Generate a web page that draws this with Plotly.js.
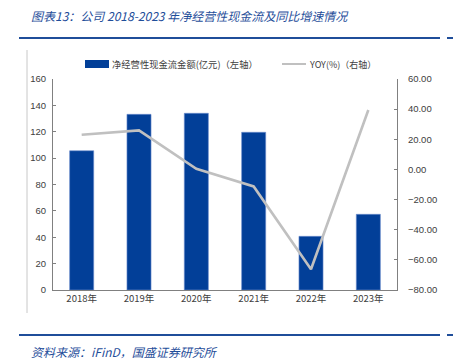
<!DOCTYPE html>
<html><head><meta charset="utf-8">
<script src="https://cdn.plot.ly/plotly-3.0.1.min.js"></script>
<style>html,body{margin:0;padding:0;background:#fff}#c{width:453px;height:364px}</style>
</head><body><div id="c"></div>
<script>
const categories = ['2018年','2019年','2020年','2021年','2022年','2023年'];
const cashFlow = [105.6, 133.2, 134.0, 119.6, 40.7, 57.4];
const yoy = [23.0, 25.9, 0.4, -11.3, -66.2, 39.4];
const leftTicks = [0,20,40,60,80,100,120,140,160];
const rightTicks = [-80,-60,-40,-20,0,20,40,60];

const W=453,H=364,L=53,R=397,T=79,B=290;
const px = x => (x-L)/(R-L);
const py = y => (B-y)/(B-T);
const blue='#023f98', grey='#c0c0c0', titleBlue='#1f4e9a';
const cjk = '"Noto Sans CJK SC", "Liberation Sans", sans-serif';
const tickFont = {family:'"Liberation Sans", "Noto Sans CJK SC", sans-serif', size:9.5, color:'#404040'};

const traces = [
 {type:'bar', x:categories, y:cashFlow, marker:{color:blue, line:{color:'#6f8fcf', width:0.6}}, yaxis:'y', showlegend:false, hoverinfo:'skip'},
 {type:'scatter', mode:'lines', x:categories, y:yoy, line:{color:grey, width:2.6}, yaxis:'y2', showlegend:false, hoverinfo:'skip'}
];

const layout = {
 width:W, height:H, margin:{l:L, r:W-R, t:T, b:H-B, pad:0},
 paper_bgcolor:'#fff', plot_bgcolor:'#fff', bargap:0.58,
 font:{family:cjk},
 xaxis:{type:'category', showline:true, linecolor:'#808080', linewidth:1, ticks:'', tickfont:{family:cjk,size:9.5,color:'#404040'}, showgrid:false, zeroline:false, fixedrange:true},
 yaxis:{range:[0,160], tickvals:leftTicks, showline:true, linecolor:'#808080', linewidth:1, ticks:'inside', ticklen:3, tickcolor:'#808080', tickfont:tickFont, showgrid:false, zeroline:false, ticklabelstandoff:4},
 yaxis2:{range:[-80,60], tickvals:rightTicks, tickformat:'.2f', overlaying:'y', side:'right', showline:true, linecolor:'#808080', linewidth:1, ticks:'inside', ticklen:3, tickcolor:'#808080', tickfont:tickFont, showgrid:false, zeroline:false, ticklabelstandoff:8},
 shapes:[
  {type:'line', xref:'paper', yref:'paper', x0:px(19), x1:px(440), y0:py(38), y1:py(38), line:{color:titleBlue, width:2}},
  {type:'line', xref:'paper', yref:'paper', x0:px(447), x1:px(453), y0:py(38), y1:py(38), line:{color:titleBlue, width:2}},
  {type:'line', xref:'paper', yref:'paper', x0:px(19), x1:px(440), y0:py(335), y1:py(335), line:{color:titleBlue, width:2}},
  {type:'line', xref:'paper', yref:'paper', x0:px(447), x1:px(453), y0:py(335), y1:py(335), line:{color:titleBlue, width:2}},
  {type:'line', xref:'paper', yref:'paper', x0:px(27), x1:px(27), y0:py(50), y1:py(313), line:{color:'#c8c8c8', width:1}},
  {type:'rect', xref:'paper', yref:'paper', x0:px(85), x1:px(109), y0:py(60), y1:py(68), fillcolor:blue, line:{width:0}},
  {type:'line', xref:'paper', yref:'paper', x0:px(282), x1:px(306), y0:py(64), y1:py(64), line:{color:grey, width:2}}
 ],
 annotations:[
  {xref:'paper', yref:'paper', x:px(29), y:py(15), xanchor:'left', yanchor:'middle', showarrow:false, text:'<i>图表13：公司 2018-2023 年净经营性现金流及同比增速情况</i>', font:{family:cjk, size:12, color:titleBlue}},
  {xref:'paper', yref:'paper', x:px(29), y:py(351), xanchor:'left', yanchor:'middle', showarrow:false, text:'<i>资料来源：iFinD，国盛证券研究所</i>', font:{family:cjk, size:12, color:titleBlue}},
  {xref:'paper', yref:'paper', x:px(110), y:py(64), xanchor:'left', yanchor:'middle', showarrow:false, text:'净经营性现金流金额(亿元)（左轴）', font:{family:cjk, size:9.3, color:'#404040'}},
  {xref:'paper', yref:'paper', x:px(307), y:py(64), xanchor:'left', yanchor:'middle', showarrow:false, text:'YOY(%)（右轴）', font:{family:cjk, size:9, color:'#404040'}}
 ]
};
Plotly.newPlot('c', traces, layout, {staticPlot:true, displayModeBar:false});
</script></body></html>
